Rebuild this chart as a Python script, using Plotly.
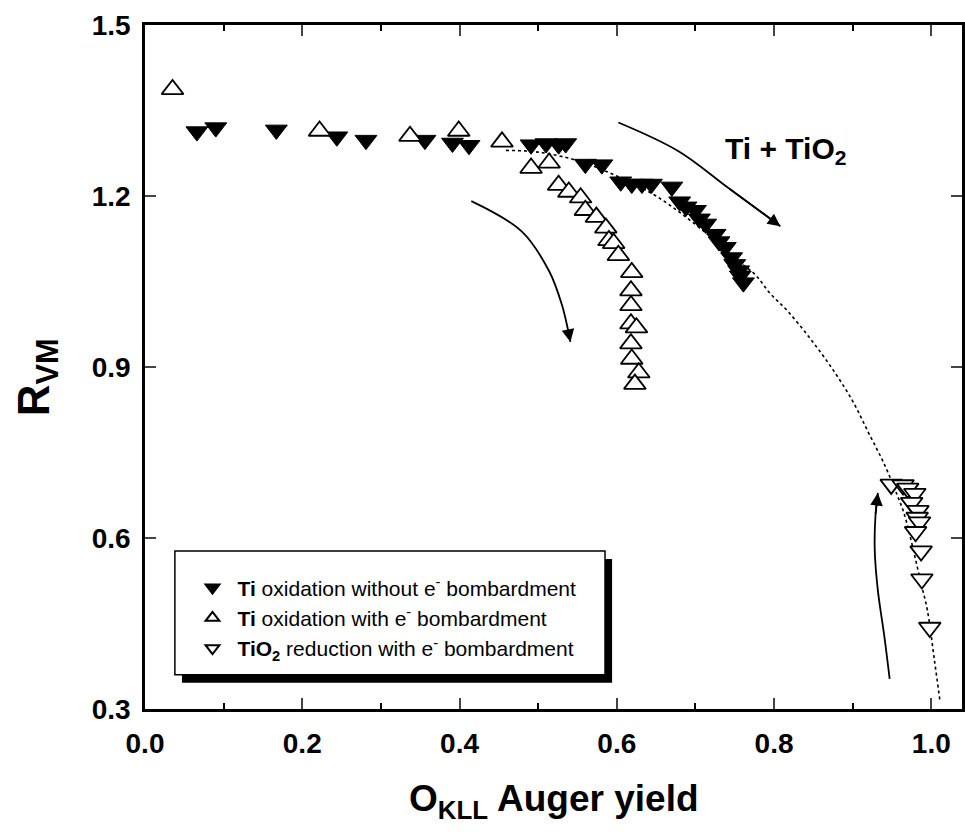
import plotly.graph_objects as go

# ---- data ----
ti_ox_x = [0.066, 0.090, 0.167, 0.244, 0.281, 0.356, 0.391, 0.412,
           0.491, 0.510, 0.526, 0.535, 0.560, 0.581, 0.605, 0.619, 0.632, 0.644,
           0.670, 0.680, 0.688, 0.700, 0.705, 0.713, 0.725, 0.730, 0.738, 0.746,
           0.750, 0.755, 0.757, 0.761]
ti_ox_y = [1.313, 1.320, 1.316, 1.304, 1.298, 1.298, 1.293, 1.289,
           1.290, 1.292, 1.290, 1.292, 1.256, 1.255, 1.225, 1.221, 1.221, 1.221,
           1.216, 1.190, 1.181, 1.175, 1.160, 1.151, 1.133, 1.120, 1.110, 1.092,
           1.080, 1.069, 1.060, 1.048]

ti_ox_e_x = [0.035, 0.222, 0.337, 0.399, 0.454, 0.491, 0.514, 0.526, 0.539,
             0.554, 0.560, 0.574, 0.586, 0.590, 0.596, 0.602, 0.619, 0.618,
             0.618, 0.618, 0.625, 0.618, 0.619, 0.628, 0.623]
ti_ox_e_y = [1.387, 1.314, 1.305, 1.314, 1.295, 1.249, 1.258, 1.219, 1.207,
             1.197, 1.175, 1.163, 1.144, 1.122, 1.117, 1.096, 1.066, 1.034,
             1.008, 0.976, 0.969, 0.941, 0.914, 0.890, 0.870]

tio2_red_x = [0.949, 0.964, 0.970, 0.979, 0.975, 0.983, 0.982, 0.985, 0.980, 0.987, 0.988, 0.998]
tio2_red_y = [0.694, 0.693, 0.687, 0.678, 0.662, 0.648, 0.636, 0.628, 0.611, 0.577, 0.528, 0.443]

guide_x = [0.459, 0.500, 0.550, 0.600, 0.650, 0.700, 0.730, 0.755, 0.776, 0.795, 0.818,
           0.847, 0.875, 0.900, 0.920, 0.940, 0.957, 0.966, 0.987, 0.995, 1.004, 1.011]
guide_y = [1.280, 1.277, 1.262, 1.235, 1.200, 1.150, 1.115, 1.085, 1.062, 1.029, 0.997,
           0.948, 0.895, 0.840, 0.785, 0.730, 0.674, 0.640, 0.520, 0.473, 0.385, 0.314]

arrow_top_x = [0.602, 0.678, 0.742, 0.808]
arrow_top_y = [1.329, 1.279, 1.214, 1.147]
arrow_mid_x = [0.415, 0.479, 0.514, 0.530, 0.538, 0.541]
arrow_mid_y = [1.191, 1.138, 1.068, 1.010, 0.965, 0.944]
arrow_bot_x = [0.947, 0.940, 0.932, 0.928, 0.929, 0.932]
arrow_bot_y = [0.353, 0.430, 0.508, 0.580, 0.640, 0.679]

x_ticks = [0.0, 0.2, 0.4, 0.6, 0.8, 1.0]
y_ticks = [0.3, 0.6, 0.9, 1.2, 1.5]

names = ["<b>Ti</b> oxidation without e<sup>-</sup> bombardment",
         "<b>Ti</b> oxidation with e<sup>-</sup> bombardment",
         "<b>TiO<sub>2</sub></b> reduction with e<sup>-</sup> bombardment"]

FONT = "Liberation Sans, Arial, sans-serif"

fig = go.Figure()

# guide (dotted) curve
fig.add_trace(go.Scatter(x=guide_x, y=guide_y, mode="lines", showlegend=False,
                         line=dict(color="black", width=1.6, dash="dot", shape="spline"),
                         hoverinfo="skip"))

# curved arrow bodies
for ax_, ay_ in [(arrow_top_x, arrow_top_y), (arrow_mid_x, arrow_mid_y), (arrow_bot_x, arrow_bot_y)]:
    fig.add_trace(go.Scatter(x=ax_, y=ay_, mode="lines", showlegend=False,
                             line=dict(color="black", width=1.8, shape="spline"),
                             hoverinfo="skip"))

fig.add_trace(go.Scatter(x=ti_ox_x, y=ti_ox_y, mode="markers", name=names[0],
                         marker=dict(symbol="triangle-down", size=19, color="black",
                                     line=dict(color="black", width=1))))
fig.add_trace(go.Scatter(x=ti_ox_e_x, y=ti_ox_e_y, mode="markers", name=names[1],
                         marker=dict(symbol="triangle-up", size=19, color="white",
                                     line=dict(color="black", width=1.8))))
fig.add_trace(go.Scatter(x=tio2_red_x, y=tio2_red_y, mode="markers", name=names[2],
                         marker=dict(symbol="triangle-down", size=19, color="white",
                                     line=dict(color="black", width=1.8))))

# arrowheads
for ax_, ay_ in [(arrow_top_x, arrow_top_y), (arrow_mid_x, arrow_mid_y), (arrow_bot_x, arrow_bot_y)]:
    fig.add_annotation(x=ax_[-1], y=ay_[-1], ax=ax_[-2], ay=ay_[-2], axref="x", ayref="y",
                       xref="x", yref="y", text="", showarrow=True, arrowhead=2,
                       arrowsize=1.4, arrowwidth=1.8, arrowcolor="black")

# Ti + TiO2 label
fig.add_annotation(x=0.815, y=1.279, xref="x", yref="y", showarrow=False,
                   text="<b>Ti + TiO<sub>2</sub></b>",
                   font=dict(family=FONT, size=30, color="black"))

# legend frame with shadow
fig.add_shape(type="rect", xref="x", yref="y", x0=0.047, x1=0.594, y0=0.346, y1=0.563,
              fillcolor="black", line=dict(width=0), layer="below")
fig.add_shape(type="rect", xref="x", yref="y", x0=0.038, x1=0.585, y0=0.360, y1=0.577,
              fillcolor="white", line=dict(color="black", width=1.5), layer="below")

# axis titles
fig.add_annotation(x=0.5, y=0, xref="paper", yref="paper", yshift=-92, showarrow=False,
                   text="<b>O<sub>KLL</sub> Auger yield</b>", xanchor="center", yanchor="middle",
                   font=dict(family=FONT, size=37, color="black"))
fig.add_annotation(x=0, y=0.485, xref="paper", yref="paper", xshift=-108, showarrow=False,
                   text="<b>R<sub>VM</sub></b>", textangle=-90, xanchor="center", yanchor="middle",
                   font=dict(family=FONT, size=44, color="black"))

fig.update_layout(
    width=965, height=832,
    margin=dict(l=145, r=0, t=25, b=123),
    paper_bgcolor="white", plot_bgcolor="white",
    showlegend=True,
    legend=dict(x=0.052, y=0.207, xanchor="left", yanchor="top",
                bgcolor="rgba(0,0,0,0)", borderwidth=0,
                font=dict(family=FONT, size=21, color="black"),
                itemsizing="constant", itemwidth=40, tracegroupgap=0),
    xaxis=dict(range=[0, 1.039], tickvals=x_ticks, ticktext=[f"{v:.1f}" for v in x_ticks],
               ticks="inside", ticklen=11, tickwidth=2.2, showline=True, linewidth=2.5,
               linecolor="black", mirror="allticks", showgrid=False, zeroline=False,
               minor=dict(dtick=0.1, ticks="inside", ticklen=6, tickwidth=2, tickcolor="black"),
               tickfont=dict(family=FONT, size=28, color="black", weight="bold"),
               ticklabelstandoff=8),
    yaxis=dict(range=[0.3, 1.5], tickvals=y_ticks, ticktext=[f"{v:.1f}" for v in y_ticks],
               ticks="inside", ticklen=11, tickwidth=2.2, showline=True, linewidth=2.5,
               linecolor="black", mirror="allticks", showgrid=False, zeroline=False,
               tickfont=dict(family=FONT, size=28, color="black", weight="bold"),
               ticklabelstandoff=6),
)

fig.write_html("out.html", config={"displayModeBar": False},
               post_script="document.body.style.margin='0';")
